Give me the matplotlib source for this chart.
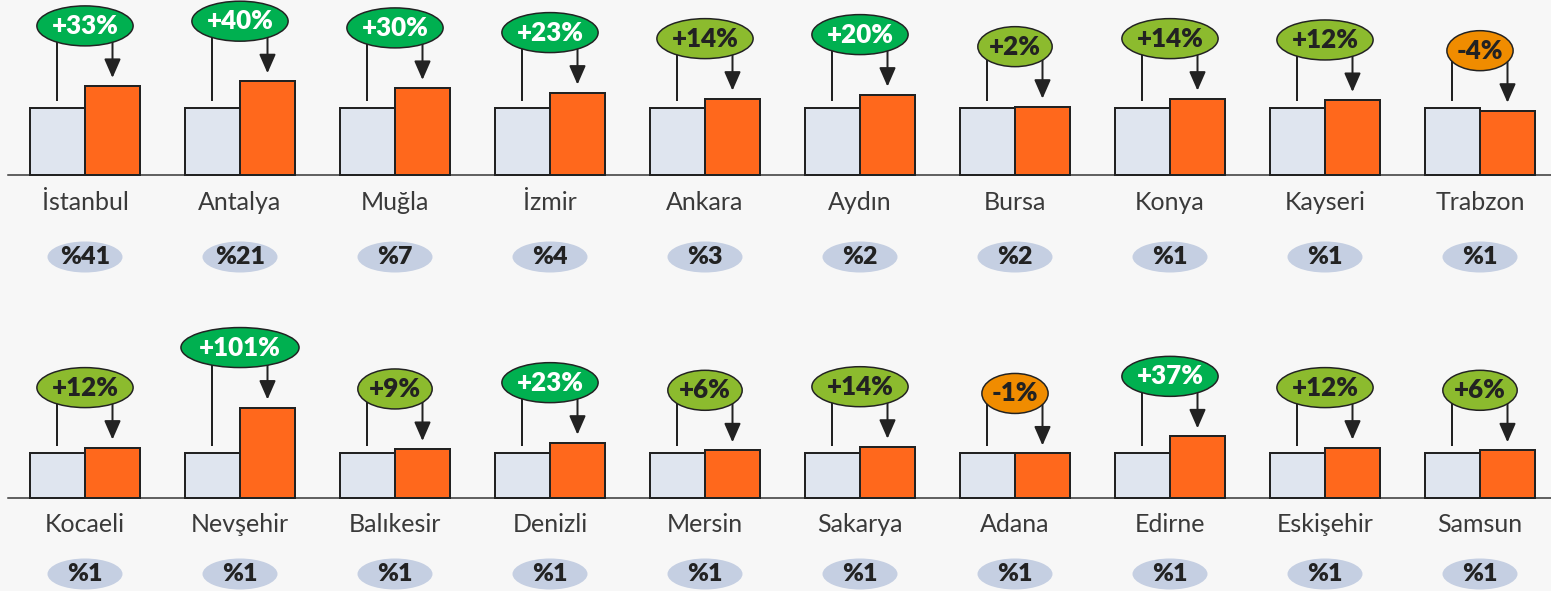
import numpy as np
import matplotlib.pyplot as plt
from matplotlib.patches import Ellipse
from matplotlib.textpath import TextPath
from matplotlib.font_manager import FontProperties

# data
cities_top = ['İstanbul', 'Antalya', 'Muğla', 'İzmir', 'Ankara',
              'Aydın', 'Bursa', 'Konya', 'Kayseri', 'Trabzon']
change_top = [33, 40, 30, 23, 14, 20, 2, 14, 12, -4]
share_top = [41, 21, 7, 4, 3, 2, 2, 1, 1, 1]

cities_bottom = ['Kocaeli', 'Nevşehir', 'Balıkesir', 'Denizli', 'Mersin',
                 'Sakarya', 'Adana', 'Edirne', 'Eskişehir', 'Samsun']
change_bottom = [12, 101, 9, 23, 6, 14, -1, 37, 12, 6]
share_bottom = [1, 1, 1, 1, 1, 1, 1, 1, 1, 1]

W, H, DPI = 1551, 591, 72
BG = '#f7f7f7'
LIGHT = '#dfe5ef'
ORANGE = '#ff681c'
EDGE = '#222222'
STEP = 155.0          # panel width in px
BW = 55 / STEP        # bar width in panel units

bold = FontProperties(family='Lato', weight='heavy', size=26)
share_font = FontProperties(family='Lato', weight='heavy', size=25)


def bubble_color(v):
    if v < 0:
        return '#f08c00', '#222222'
    if v >= 20:
        return '#00b050', 'white'
    return '#8cbb2e', '#222222'


def draw_row(fig, cities, change, share, top, bot, base, unit, share_off):
    ax = fig.add_axes([0, 1 - bot / H, 1, (bot - top) / H])
    ax.set_xlim(-85 / STEP, (W - 85) / STEP)
    ax.set_ylim(-(bot - base) / unit, (base - top) / unit)
    ax.axis('off')

    x = np.arange(len(cities))
    ratio = 1 + np.array(change) / 100.0
    prev = np.ones(len(cities))

    ax.axhline(0, xmin=8 / W, color='#333333', lw=1.5, zorder=1)
    ax.bar(x - BW / 2, prev, BW, color=LIGHT, edgecolor=EDGE, lw=2, zorder=2)
    ax.bar(x + BW / 2, ratio, BW, color=ORANGE, edgecolor=EDGE, lw=2, zorder=2)

    for i in range(len(cities)):
        xl, xr = x[i] - BW / 2, x[i] + BW / 2
        yb = ratio[i] + 60 / unit
        # connector from previous bar up to the bubble, arrow down to new bar
        ax.plot([xl, xl], [prev[i] + 8 / unit, yb], color=EDGE, lw=2, zorder=3)
        ax.annotate('', xy=(xr, ratio[i] + 8 / unit), xytext=(xr, yb),
                    arrowprops=dict(arrowstyle='-|>,head_length=0.8,head_width=0.35',
                                    color=EDGE, lw=2, mutation_scale=20,
                                    shrinkA=0, shrinkB=0), zorder=3)

        v = change[i]
        label = f'+{v}%' if v > 0 else f'{v}%'
        fc, tc = bubble_color(v)
        tw = TextPath((0, 0), label, prop=bold).get_extents().width
        ew = tw * 1.45 + 2
        ax.add_patch(Ellipse((x[i], yb), ew / STEP, 40 / unit, facecolor=fc,
                             edgecolor=EDGE, lw=1.5, zorder=4))
        ax.text(x[i], yb, label, ha='center', va='center', color=tc,
                fontproperties=bold, zorder=5)

        # city name and share bubble
        ax.text(x[i], -27 / unit, cities[i], ha='center', va='center',
                family='Lato', weight='normal', size=25, color='#3a3a3a')
        ys = -share_off / unit
        ax.add_patch(Ellipse((x[i], ys), 75 / STEP, 31 / unit,
                             facecolor='#c5cfe2', edgecolor='none', zorder=4))
        ax.text(x[i], ys, f'%{share[i]}', ha='center', va='center',
                color='#222222', fontproperties=share_font, zorder=5)
    return ax


fig = plt.figure(figsize=(W / DPI, H / DPI), dpi=DPI, facecolor=BG)
draw_row(fig, cities_top, change_top, share_top, 0, 296, 175, 67, 82)
draw_row(fig, cities_bottom, change_bottom, share_bottom, 296, 591, 498, 45, 76)
fig.savefig('out.png', dpi=DPI, facecolor=BG)
